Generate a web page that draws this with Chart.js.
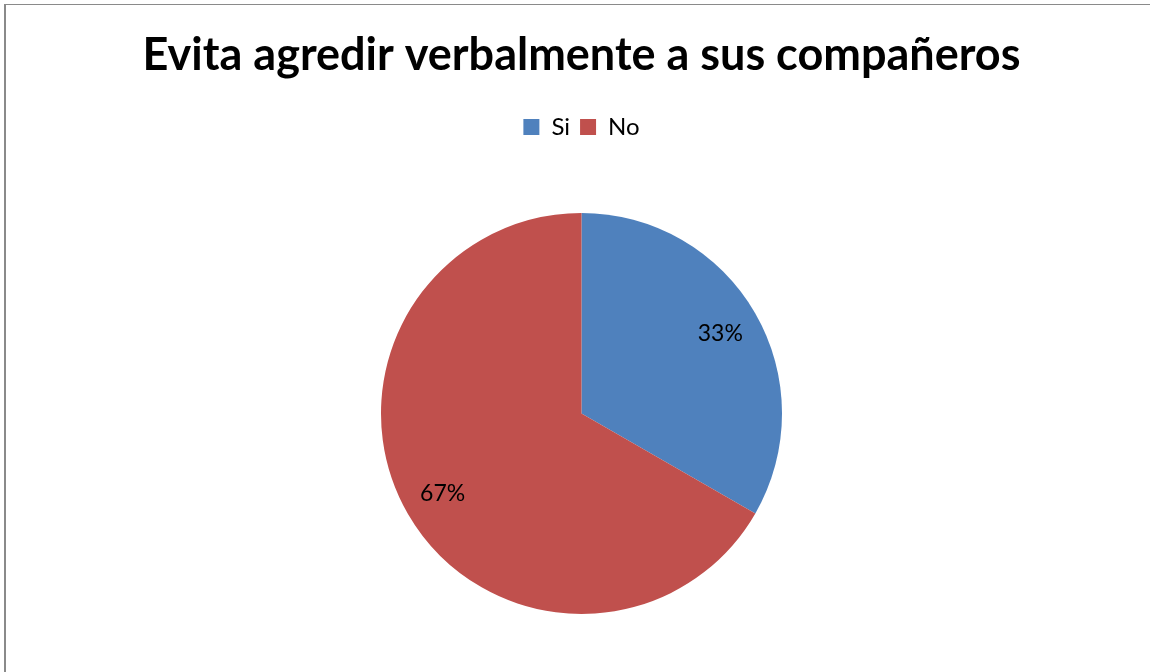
<!doctype html>
<html>
<head>
    <meta charset="utf-8">
    <title>Evita agredir verbalmente a sus compañeros</title>
    <script src="https://cdn.jsdelivr.net/npm/chart.js"></script>
    <style>
        body { margin: 0; background: #fff; }
        #marco {
            position: absolute; left: 4px; top: 4px;
            width: 1146px; height: 668px;
            border-left: 2px solid #8a8a8a;
            border-top: 1px solid #8a8a8a;
        }
    </style>
</head>
<body>
    <div id="marco">
        <canvas id="grafico"></canvas>
    </div>

    <script>
        // Datos del gráfico
        var categorias = ['Si', 'No'];
        var porcentajes = [33.3, 66.7];
        var colores = ['#4F81BD', '#C0504D'];

        // Plugin para escribir el porcentaje dentro de cada porción
        var etiquetasPorcentaje = {
            id: 'etiquetasPorcentaje',
            afterDatasetsDraw(chart) {
                var ctx = chart.ctx;
                var meta = chart.getDatasetMeta(0);
                var total = porcentajes.reduce((a, b) => a + b, 0);
                ctx.save();
                ctx.font = '23px Lato';
                ctx.fillStyle = '#000';
                ctx.textAlign = 'center';
                ctx.textBaseline = 'middle';
                meta.data.forEach((arco, i) => {
                    var p = arco.getProps(['x', 'y', 'startAngle', 'endAngle', 'outerRadius'], true);
                    var medio = (p.startAngle + p.endAngle) / 2;
                    var x = p.x + Math.cos(medio) * p.outerRadius * 0.8;
                    var y = p.y + Math.sin(medio) * p.outerRadius * 0.8;
                    ctx.fillText(Math.round(porcentajes[i] / total * 100) + '%', x, y);
                });
                ctx.restore();
            }
        };

        // Espacio extra debajo de la leyenda
        var margenLeyenda = {
            id: 'margenLeyenda',
            beforeInit(chart) {
                var fitOriginal = chart.legend.fit;
                chart.legend.fit = function () {
                    fitOriginal.bind(chart.legend)();
                    this.height += 64;
                };
            }
        };

        new Chart(document.getElementById('grafico'), {
            type: 'pie',
            data: {
                labels: categorias,
                datasets: [{
                    data: porcentajes,
                    backgroundColor: colores,
                    borderWidth: 0
                }]
            },
            options: {
                responsive: true,
                maintainAspectRatio: false,
                animation: false,
                layout: {
                    padding: { left: 5, bottom: 59 }
                },
                plugins: {
                    tooltip: { enabled: false },
                    title: {
                        display: true,
                        text: 'Evita agredir verbalmente a sus compañeros',
                        color: '#000',
                        font: { family: 'Lato', size: 45, weight: 'bold' },
                        padding: { top: 23, bottom: 23 }
                    },
                    legend: {
                        position: 'top',
                        labels: {
                            color: '#000',
                            font: { family: 'Lato', size: 24 },
                            boxWidth: 16,
                            boxHeight: 16,
                            padding: 10
                        }
                    }
                }
            },
            plugins: [etiquetasPorcentaje, margenLeyenda]
        });
    </script>
</body>
</html>
